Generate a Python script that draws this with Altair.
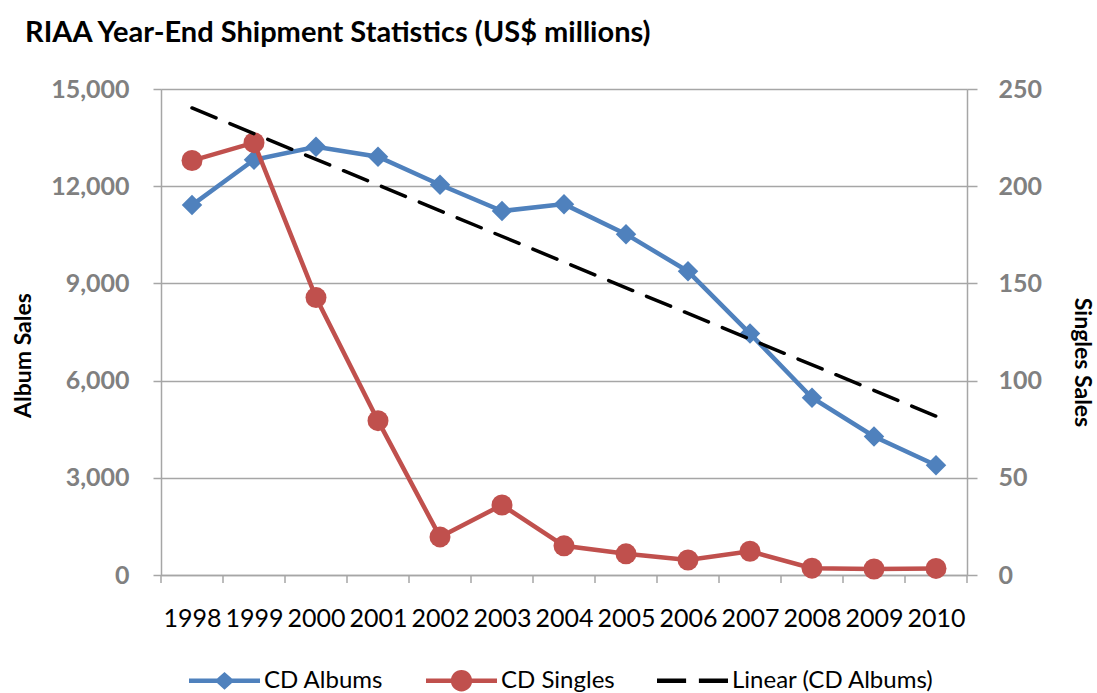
import altair as alt
import pandas as pd

# RIAA year-end shipment values, US$ millions
years = list(range(1998, 2011))
cd_albums = [11416.0, 12816.3, 13214.5, 12909.4, 12044.1, 11232.9, 11446.5,
             10520.2, 9372.6, 7452.3, 5471.3, 4274.1, 3389.4]
cd_singles = [213.2, 222.4, 142.7, 79.4, 19.6, 36.0, 15.0,
              10.9, 7.7, 12.2, 3.5, 3.1, 3.4]

series_names = ["CD Albums", "CD Singles", "Linear (CD Albums)"]
series_colors = ["#4F81BD", "#C0504D", "#000000"]

album_ticks = [0, 3000, 6000, 9000, 12000, 15000]
single_ticks = [0, 50, 100, 150, 200, 250]

# legend glyphs: a line with the series marker, and a dashed line
legend_glyphs = [
    "M-1,-0.065L1,-0.065L1,0.065L-1,0.065Z M0,-0.25L0.28,0L0,0.25L-0.28,0Z",
    "M-1,-0.065L1,-0.065L1,0.065L-1,0.065Z "
    "M-0.3,0A0.3,0.3 0 1,1 0.3,0A0.3,0.3 0 1,1 -0.3,0Z",
    "M-1,-0.06L-0.18,-0.06L-0.18,0.06L-1,0.06Z M0.18,-0.06L1,-0.06L1,0.06L0.18,0.06Z",
]

W, H = 806, 486
FONT = "Lato"
GRID = "#a6a6a6"
LABEL_GRAY = "#808080"

df = pd.DataFrame({"year": years, "albums": cd_albums, "singles": cd_singles})
edges = pd.DataFrame({"edge": [y - 0.5 for y in years] + [years[-1] + 0.5]})
legend_df = pd.DataFrame({"series": series_names})

x_scale = alt.Scale(domain=[years[0] - 0.5, years[-1] + 0.5], nice=False, zero=False)
x_axis = alt.Axis(values=years, format="d", ticks=False, grid=False, title=None,
                  domainColor=GRID, domainWidth=1.5, labelFont=FONT,
                  labelFontSize=25, labelColor="black", labelPadding=31,
                  labelFlush=False, labelOverlap=False)

left_scale = alt.Scale(domain=[0, 15000], nice=False)
left_axis = alt.Axis(orient="left", values=album_ticks, format=",d", grid=True,
                     gridColor=GRID, gridWidth=1.5, domainColor=GRID,
                     domainWidth=1.5, tickColor=GRID, tickWidth=1.5, tickSize=8,
                     labelFont=FONT, labelFontSize=25, labelFontWeight="bold",
                     labelColor=LABEL_GRAY, labelPadding=24,
                     title="Album Sales", titleFont=FONT, titleFontSize=23,
                     titleFontWeight="bold", titleColor="black", titleAngle=270,
                     titleX=-138, titleY=266, titleAlign="center",
                     titleBaseline="middle")

right_scale = alt.Scale(domain=[0, 250], nice=False)
right_axis = alt.Axis(orient="right", values=single_ticks, format="d", grid=False,
                      domainColor=GRID, domainWidth=1.5, tickColor=GRID,
                      tickWidth=1.5, tickSize=10, labelFont=FONT,
                      labelFontSize=25, labelFontWeight="bold",
                      labelColor=LABEL_GRAY, labelPadding=21,
                      title="Singles Sales", titleFont=FONT, titleFontSize=23,
                      titleFontWeight="bold", titleColor="black", titleAngle=90,
                      titleX=114, titleY=273, titleAlign="center",
                      titleBaseline="middle")

x_year = alt.X("year:Q", scale=x_scale, axis=x_axis)
y_albums = alt.Y("albums:Q", scale=left_scale, axis=left_axis)

base = alt.Chart(df)

albums = alt.layer(
    base.mark_line(color=series_colors[0], strokeWidth=4.5).encode(x=x_year, y=y_albums),
    base.mark_point(shape="diamond", filled=True, size=420, opacity=1,
                    color=series_colors[0]).encode(x=x_year, y=y_albums),
)

y_singles = alt.Y("singles:Q", scale=right_scale, axis=right_axis)
singles = alt.layer(
    base.mark_line(color=series_colors[1], strokeWidth=4.5).encode(x=x_year, y=y_singles),
    base.mark_point(shape="circle", filled=True, size=440, opacity=1,
                    color=series_colors[1]).encode(x=x_year, y=y_singles),
)

# least-squares trend of the album series
trend = base.transform_regression("year", "albums").mark_line(
    color="black", strokeWidth=3.5, strokeDash=[26, 15], strokeCap="round"
).encode(x=x_year, y=alt.Y("albums:Q", scale=left_scale, axis=None))

# category boundary ticks below the x axis
edge_ticks = alt.Chart(edges).mark_rule(color=GRID, strokeWidth=1.5).encode(
    x=alt.X("edge:Q", scale=x_scale, axis=x_axis),
    y=alt.value(H),
    y2=alt.value(H + 8),
)

legend_opts = dict(orient="none", legendX=28, legendY=556, direction="horizontal",
                   title=None, symbolSize=5041, symbolStrokeWidth=0,
                   symbolOpacity=1, labelFont=FONT, labelFontSize=24,
                   labelColor="black", labelOffset=4, labelLimit=400,
                   columnPadding=42)

legend_layer = alt.Chart(legend_df).mark_point(filled=True, size=0, opacity=1).encode(
    color=alt.Color("series:N",
                    scale=alt.Scale(domain=series_names, range=series_colors),
                    legend=alt.Legend(**legend_opts)),
    shape=alt.Shape("series:N",
                    scale=alt.Scale(domain=series_names, range=legend_glyphs),
                    legend=alt.Legend(**legend_opts)),
)

chart = alt.layer(albums, singles, trend, edge_ticks, legend_layer).resolve_scale(
    y="independent"
).properties(
    width=W,
    height=H,
    title=alt.TitleParams("RIAA Year-End Shipment Statistics (US$ millions)",
                          anchor="start", frame="group", dx=-136, dy=-25,
                          font=FONT, fontSize=29, fontWeight="bold",
                          color="black"),
    autosize=alt.AutoSizeParams(type="none"),
    padding={"left": 161, "top": 89, "right": 130, "bottom": 118},
).configure_view(stroke=None).configure(background="white")

chart.save("out.html", embed_options={"renderer": "svg", "actions": False})
